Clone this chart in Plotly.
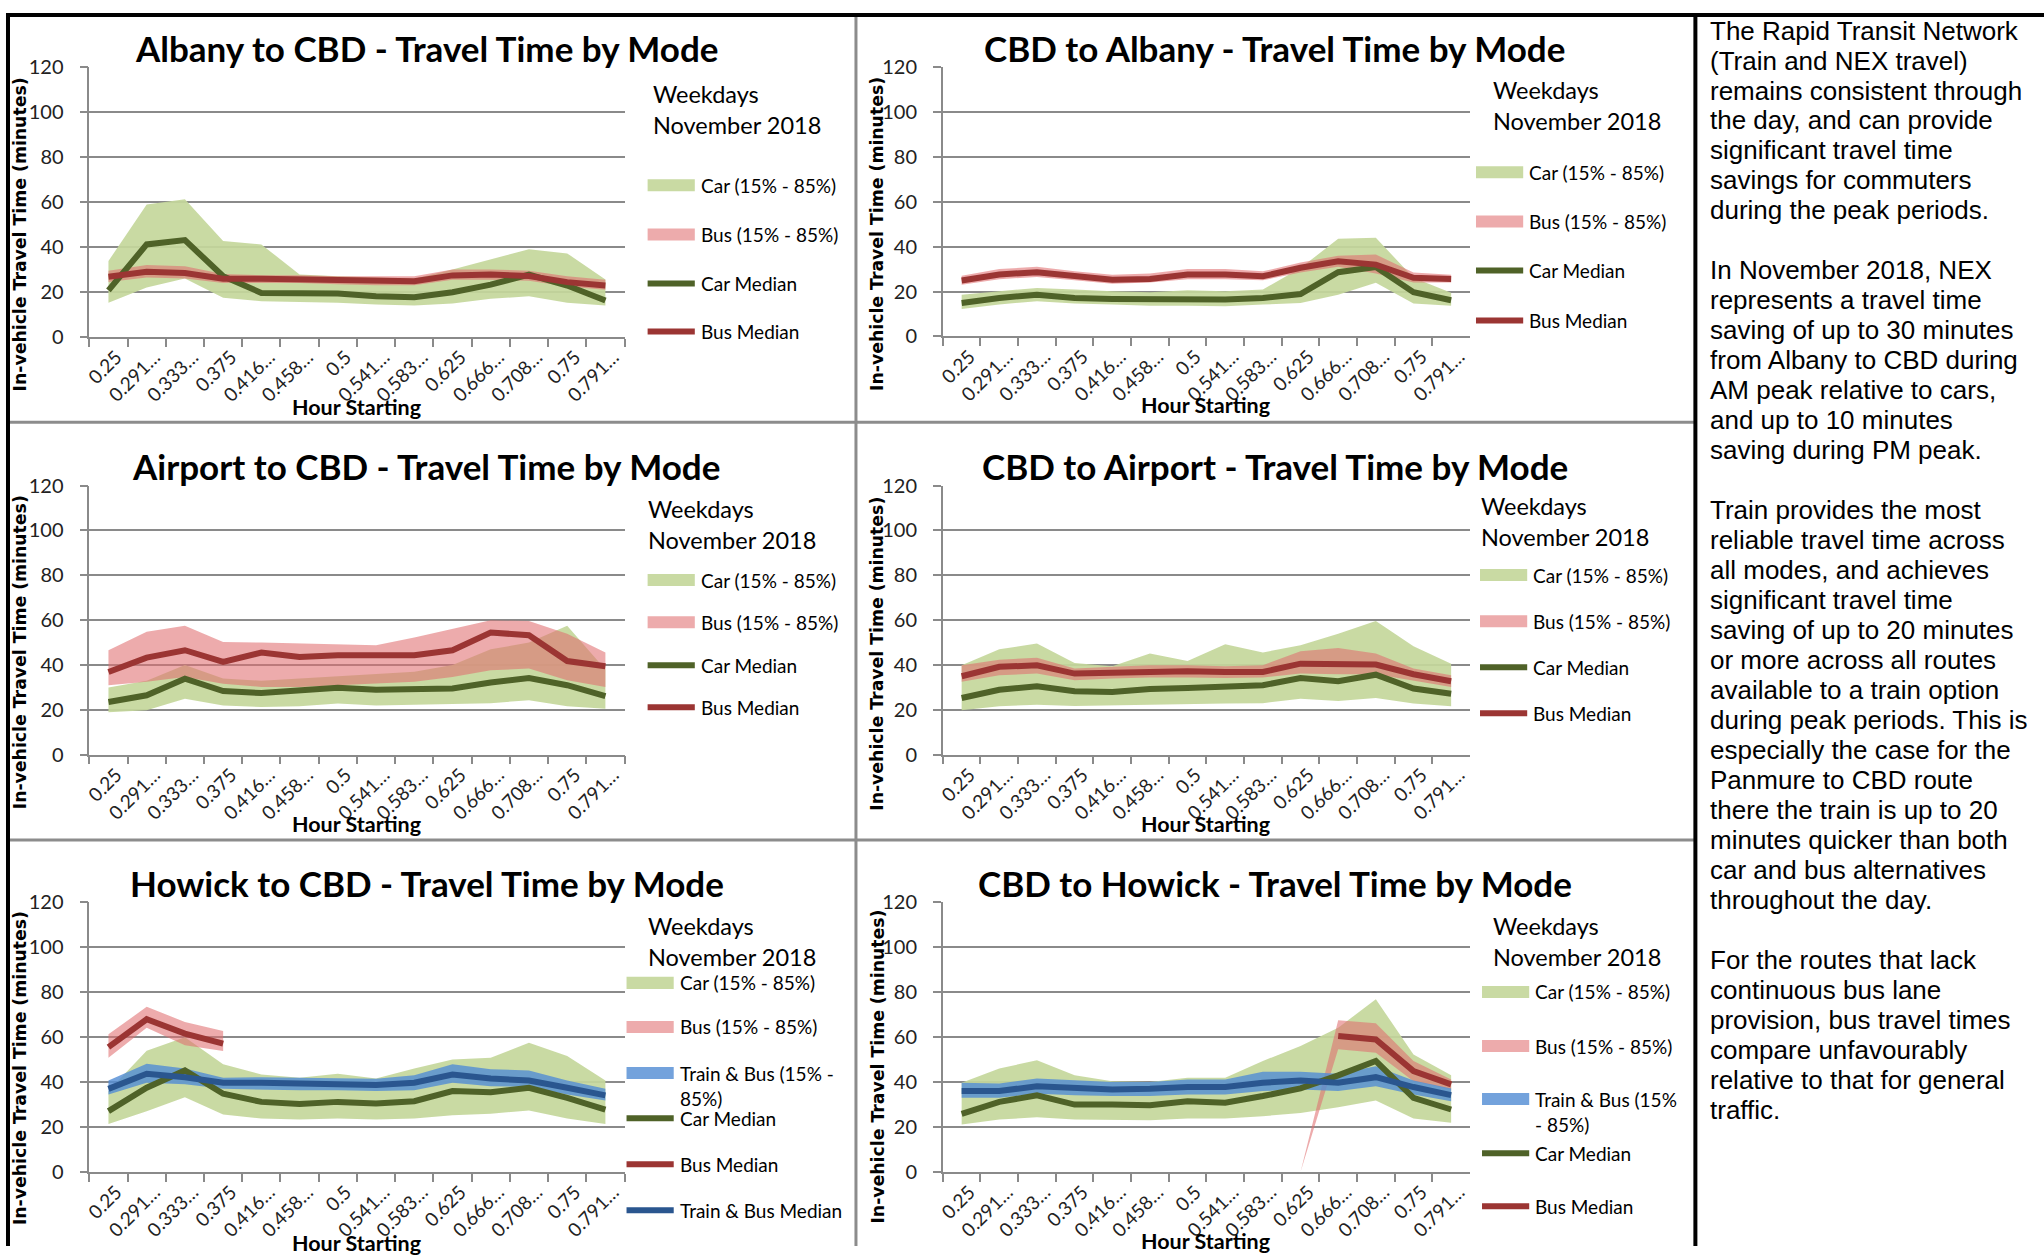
import plotly.graph_objects as go

W, H = 2044, 1257
# measured mapping of this renderer: observed = A * page + B  (per axis); invert it for placement
AX, BX = 0.993, 13.0
AY, BY = 0.979, 14.0

# ---------------- data ----------------
hours = ["0.25", "0.291…", "0.333…", "0.375", "0.416…", "0.458…", "0.5",
         "0.541…", "0.583…", "0.625", "0.666…", "0.708…", "0.75", "0.791…"]

# Albany to CBD
alb_car_med = [20.7, 41.2, 43.1, 27.0, 19.6, 19.2, 19.3, 18.1, 17.7, 19.9, 23.3, 27.7, 22.9, 16.2]
alb_bus_med = [26.8, 29.0, 28.5, 25.9, 25.9, 25.6, 25.1, 24.8, 24.8, 27.4, 27.8, 27.1, 24.4, 22.9]
alb_car_hi = [33.8, 59.0, 61.3, 42.7, 41.2, 27.8, 27.0, 26.3, 25.9, 30.0, 34.5, 39.0, 37.2, 25.6]
alb_car_lo = [15.2, 22.0, 26.0, 17.4, 15.9, 15.5, 15.2, 14.4, 14.0, 14.9, 17.0, 18.1, 15.2, 14.0]
alb_bus_hi = [29.5, 32.0, 31.5, 28.0, 27.5, 27.5, 27.0, 27.0, 27.0, 30.0, 30.0, 29.5, 27.0, 25.5]
alb_bus_lo = [24.5, 26.5, 26.0, 24.0, 24.0, 24.0, 23.5, 23.0, 23.0, 25.5, 25.5, 25.0, 22.5, 21.0]

# CBD to Albany
cba_car_med = [14.9, 17.1, 18.6, 17.1, 16.7, 16.4, 16.7, 16.4, 17.1, 18.9, 28.6, 30.9, 19.7, 16.1]
cba_bus_med = [24.9, 27.6, 28.6, 26.8, 25.3, 25.6, 27.6, 27.6, 26.8, 30.6, 33.5, 32.0, 26.1, 25.6]
cba_car_hi = [18.6, 20.1, 21.6, 20.9, 20.1, 19.7, 20.6, 20.1, 20.9, 30.5, 43.5, 44.0, 26.1, 19.4]
cba_car_lo = [12.2, 14.2, 15.7, 14.6, 14.2, 13.7, 13.7, 13.4, 14.2, 14.9, 18.6, 23.9, 14.6, 13.7]
cba_bus_hi = [27.0, 30.0, 31.0, 29.0, 27.5, 28.0, 30.0, 30.0, 29.0, 33.0, 36.0, 36.5, 28.5, 27.5]
cba_bus_lo = [23.0, 25.5, 26.5, 25.0, 23.5, 24.0, 25.5, 25.5, 25.0, 28.5, 31.0, 28.0, 24.0, 24.0]

# Airport to CBD
apc_car_med = [23.5, 26.5, 33.9, 28.4, 27.5, 29.0, 29.9, 29.0, 29.5, 29.5, 32.2, 34.2, 31.0, 26.1]
apc_bus_med = [36.9, 43.3, 46.6, 41.4, 45.6, 43.6, 44.4, 44.1, 44.4, 46.6, 54.5, 53.3, 41.8, 39.5]
apc_car_hi = [30.0, 33.0, 40.0, 34.0, 33.0, 34.0, 35.0, 36.0, 37.0, 40.0, 47.0, 50.0, 57.5, 38.0]
apc_car_lo = [19.0, 19.8, 25.0, 22.0, 21.3, 21.6, 22.8, 22.0, 22.3, 22.5, 23.0, 24.3, 21.6, 20.5]
apc_bus_hi = [46.6, 54.8, 57.5, 50.3, 50.0, 49.6, 49.1, 48.8, 52.3, 56.0, 60.0, 59.6, 54.0, 45.6]
apc_bus_lo = [31.0, 32.5, 34.7, 31.7, 30.2, 30.2, 31.0, 31.7, 32.5, 34.7, 37.7, 38.4, 33.2, 30.2]

# CBD to Airport
cap_car_med = [25.3, 29.0, 30.5, 28.3, 28.0, 29.3, 29.8, 30.2, 31.0, 34.2, 32.8, 35.7, 29.5, 27.2]
cap_bus_med = [35.0, 39.2, 39.9, 36.2, 36.6, 37.2, 37.2, 36.9, 36.9, 40.6, 40.3, 40.2, 35.9, 32.8]
cap_car_hi = [39.9, 47.0, 49.6, 40.9, 39.5, 45.1, 41.8, 49.3, 45.6, 48.8, 54.0, 59.6, 48.4, 40.6]
cap_car_lo = [19.8, 21.6, 22.3, 21.7, 21.7, 22.0, 22.5, 22.8, 23.0, 25.0, 24.0, 25.3, 22.8, 21.6]
cap_bus_hi = [39.9, 42.4, 43.3, 38.4, 39.2, 39.9, 39.9, 39.5, 39.9, 46.2, 47.6, 45.1, 38.4, 35.4]
cap_bus_lo = [32.5, 35.4, 36.2, 33.2, 34.0, 34.4, 34.4, 34.2, 34.4, 36.2, 35.9, 35.9, 33.2, 30.2]

# Howick to CBD
hwc_car_med = [27.1, 37.5, 45.2, 34.8, 31.2, 30.3, 31.2, 30.5, 31.5, 36.0, 35.5, 37.5, 33.0, 27.8]
hwc_bus_med = [55.6, 68.0, 61.6, 57.1, None, None, None, None, None, None, None, None, None, None]
hwc_tb_med = [37.0, 43.7, 42.2, 39.7, 39.7, 39.3, 39.3, 38.7, 39.7, 43.4, 41.6, 40.7, 37.5, 34.1]
hwc_car_hi = [36.0, 54.0, 60.0, 47.9, 43.4, 41.9, 43.7, 41.6, 46.1, 50.1, 50.9, 57.5, 51.6, 40.7]
hwc_car_lo = [21.4, 27.0, 33.3, 25.6, 23.8, 23.3, 23.8, 23.3, 23.8, 25.3, 25.9, 27.4, 23.8, 21.4]
hwc_bus_hi = [61.3, 73.5, 66.8, 62.8, None, None, None, None, None, None, None, None, None, None]
hwc_bus_lo = [50.9, 64.2, 56.4, 53.8, None, None, None, None, None, None, None, None, None, None]
hwc_tb_hi = [40.7, 48.2, 46.1, 41.9, 42.2, 41.9, 41.9, 41.5, 43.0, 47.9, 45.7, 45.2, 40.7, 37.0]
hwc_tb_lo = [34.5, 39.7, 39.0, 37.0, 36.7, 36.4, 36.4, 36.0, 36.4, 39.7, 38.2, 37.8, 34.5, 31.8]

# CBD to Howick
chw_car_med = [25.9, 31.2, 34.1, 30.0, 30.0, 29.7, 31.5, 30.8, 33.8, 37.2, 43.0, 49.4, 33.0, 27.8]
chw_bus_med = [None, None, None, None, None, None, None, None, None, None, 60.5, 59.0, 44.9, 39.0]
chw_tb_med = [36.0, 36.0, 38.2, 37.2, 36.7, 37.0, 37.8, 37.8, 39.7, 40.7, 39.7, 42.2, 37.8, 34.2]
chw_car_hi = [39.7, 46.1, 49.7, 43.0, 40.4, 40.1, 41.9, 41.9, 49.4, 56.1, 64.2, 76.9, 52.3, 43.1]
chw_car_lo = [21.1, 23.3, 24.4, 23.3, 23.3, 23.0, 23.8, 23.8, 24.8, 26.3, 28.8, 31.8, 23.8, 21.9]
chw_bus_hi = [None, None, None, None, None, None, None, None, None, 0.0, 67.5, 66.2, 49.4, 41.2]
chw_bus_lo = [None, None, None, None, None, None, None, None, None, 0.0, 54.6, 53.1, 40.4, 36.7]
chw_tb_hi = [39.7, 39.4, 41.6, 40.7, 40.1, 40.1, 41.2, 41.2, 44.6, 44.6, 43.7, 47.1, 40.7, 37.2]
chw_tb_lo = [33.0, 33.0, 34.8, 34.1, 33.8, 33.8, 34.5, 34.5, 36.0, 36.7, 36.0, 38.2, 34.5, 31.5]

y_ticks = [0, 20, 40, 60, 80, 100, 120]

titles = ["Albany to CBD - Travel Time by Mode", "CBD to Albany - Travel Time by Mode",
          "Airport to CBD - Travel Time by Mode", "CBD to Airport - Travel Time by Mode",
          "Howick to CBD - Travel Time by Mode", "CBD to Howick - Travel Time by Mode"]

side_text = [
    "The Rapid Transit Network", "(Train and NEX travel)", "remains consistent through",
    "the day, and can provide", "significant travel time", "savings for commuters",
    "during the peak periods.", "",
    "In November 2018, NEX", "represents a travel time", "saving of up to 30 minutes",
    "from Albany to CBD during", "AM peak relative to cars,", "and up to 10 minutes",
    "saving during PM peak.", "",
    "Train provides the most", "reliable travel time across", "all modes, and achieves",
    "significant travel time", "saving of up to 20 minutes", "or more across all routes",
    "available to a train option", "during peak periods. This is", "especially the case for the",
    "Panmure to CBD route", "there the train is up to 20", "minutes quicker than both",
    "car and bus alternatives", "throughout the day.", "",
    "For the routes that lack", "continuous bus lane", "provision, bus travel times",
    "compare unfavourably", "relative to that for general", "traffic.",
]

# ---------------- styles ----------------
CAR_BAND = "rgba(196,215,155,0.92)"
BUS_BAND = "rgba(224,110,112,0.58)"
TB_BAND = "rgba(84,141,212,0.82)"
CAR_LINE = "#4f6228"
BUS_LINE = "#9b3533"
TB_LINE = "#2a568f"
GRID = "#8a8a8a"
CAL = "Lato"


def px_x(t):
    p = (t - BX) / AX
    return min(max(p, 0.0), W) / W


def px_y(t):
    p = (t - BY) / AY
    return 1 - min(max(p, 0.0), H) / H


# panel geometry in target pixels: plot x0, x1, y_top, y_bottom
panels = [
    dict(box=(96, 629, 68.3, 337.3), title=(432, 49), ytitle=(27, 235), xtitle=(362, 407),
         head=(655, 95), lx=652, items=[("band", CAR_BAND, "Car (15% - 85%)", 186),
                                        ("band", BUS_BAND, "Bus (15% - 85%)", 235),
                                        ("line", CAR_LINE, "Car Median", 284),
                                        ("line", BUS_LINE, "Bus Median", 332)],
         car=(alb_car_lo, alb_car_hi, alb_car_med), bus=(alb_bus_lo, alb_bus_hi, alb_bus_med), tb=None),
    dict(box=(946, 1471, 68.3, 336.7), title=(1276, 49), ytitle=(881, 235), xtitle=(1208, 405),
         head=(1492, 91), lx=1477, items=[("band", CAR_BAND, "Car (15% - 85%)", 173),
                                          ("band", BUS_BAND, "Bus (15% - 85%)", 222),
                                          ("line", CAR_LINE, "Car Median", 271),
                                          ("line", BUS_LINE, "Bus Median", 321)],
         car=(cba_car_lo, cba_car_hi, cba_car_med), bus=(cba_bus_lo, cba_bus_hi, cba_bus_med), tb=None),
    dict(box=(96, 629, 485.7, 754.3), title=(431, 466), ytitle=(27, 652), xtitle=(362, 823),
         head=(650, 509), lx=652, items=[("band", CAR_BAND, "Car (15% - 85%)", 580),
                                         ("band", BUS_BAND, "Bus (15% - 85%)", 622),
                                         ("line", CAR_LINE, "Car Median", 665),
                                         ("line", BUS_LINE, "Bus Median", 707)],
         car=(apc_car_lo, apc_car_hi, apc_car_med), bus=(apc_bus_lo, apc_bus_hi, apc_bus_med), tb=None),
    dict(box=(946, 1471, 485.7, 754.3), title=(1277, 466), ytitle=(881, 654), xtitle=(1208, 823),
         head=(1480, 506), lx=1481, items=[("band", CAR_BAND, "Car (15% - 85%)", 575),
                                           ("band", BUS_BAND, "Bus (15% - 85%)", 621),
                                           ("line", CAR_LINE, "Car Median", 667),
                                           ("line", BUS_LINE, "Bus Median", 713)],
         car=(cap_car_lo, cap_car_hi, cap_car_med), bus=(cap_bus_lo, cap_bus_hi, cap_bus_med), tb=None),
    dict(box=(96, 629, 901.7, 1170.7), title=(432, 882), ytitle=(27, 1067), xtitle=(362, 1242),
         head=(650, 925), lx=631, items=[("band", CAR_BAND, "Car (15% - 85%)", 982),
                                         ("band", BUS_BAND, "Bus (15% - 85%)", 1026),
                                         ("band2", TB_BAND, "Train & Bus (15% -<br>85%)", 1072),
                                         ("line", CAR_LINE, "Car Median", 1117),
                                         ("line", BUS_LINE, "Bus Median", 1163),
                                         ("line", TB_LINE, "Train & Bus Median", 1209)],
         car=(hwc_car_lo, hwc_car_hi, hwc_car_med), bus=(hwc_bus_lo, hwc_bus_hi, hwc_bus_med),
         tb=(hwc_tb_lo, hwc_tb_hi, hwc_tb_med)),
    dict(box=(946, 1471, 901.7, 1170.7), title=(1277, 882), ytitle=(881, 1066), xtitle=(1208, 1240),
         head=(1492, 925), lx=1483, items=[("band", CAR_BAND, "Car (15% - 85%)", 991),
                                           ("band", BUS_BAND, "Bus (15% - 85%)", 1045),
                                           ("band2", TB_BAND, "Train & Bus (15%<br>- 85%)", 1098),
                                           ("line", CAR_LINE, "Car Median", 1152),
                                           ("line", BUS_LINE, "Bus Median", 1205)],
         car=(chw_car_lo, chw_car_hi, chw_car_med), bus=(chw_bus_lo, chw_bus_hi, chw_bus_med),
         tb=(chw_tb_lo, chw_tb_hi, chw_tb_med)),
]

fig = go.Figure()
annotations = []
shapes = []


def band_trace(lo, hi, color, xa, ya):
    idx = [i for i in range(len(hours)) if lo[i] is not None and hi[i] is not None]
    xs = [hours[i] for i in idx] + [hours[i] for i in reversed(idx)]
    ys = [hi[i] for i in idx] + [lo[i] for i in reversed(idx)]
    return go.Scatter(x=xs, y=ys, fill="toself", fillcolor=color, mode="lines",
                      line=dict(width=0, color=color), xaxis=xa, yaxis=ya,
                      hoverinfo="skip", showlegend=False)


def line_trace(vals, color, xa, ya):
    idx = [i for i in range(len(hours)) if vals[i] is not None]
    return go.Scatter(x=[hours[i] for i in idx], y=[vals[i] for i in idx], mode="lines",
                      line=dict(color=color, width=6), xaxis=xa, yaxis=ya, showlegend=False)


for k, p in enumerate(panels):
    n = k + 1
    xa = "x" if n == 1 else f"x{n}"
    ya = "y" if n == 1 else f"y{n}"
    x0, x1, yt, yb = p["box"]

    fig.add_trace(band_trace(p["car"][0], p["car"][1], CAR_BAND, xa, ya))
    fig.add_trace(band_trace(p["bus"][0], p["bus"][1], BUS_BAND, xa, ya))
    if p["tb"]:
        fig.add_trace(band_trace(p["tb"][0], p["tb"][1], TB_BAND, xa, ya))
    fig.add_trace(line_trace(p["car"][2], CAR_LINE, xa, ya))
    fig.add_trace(line_trace(p["bus"][2], BUS_LINE, xa, ya))
    if p["tb"]:
        fig.add_trace(line_trace(p["tb"][2], TB_LINE, xa, ya))

    xkey = "xaxis" if n == 1 else f"xaxis{n}"
    ykey = "yaxis" if n == 1 else f"yaxis{n}"
    fig.layout[xkey] = dict(
        domain=[px_x(x0), px_x(x1)], anchor=ya, type="category",
        categoryorder="array", categoryarray=hours, range=[-0.5, len(hours) - 0.5],
        tickson="boundaries", ticks="outside", ticklen=8, tickcolor=GRID, tickwidth=1.5,
        showline=True, linecolor=GRID, linewidth=1.5, showgrid=False, tickangle=-45,
        ticklabelshift=8,
        tickfont=dict(family=CAL, size=19, color="#222222"), fixedrange=True)
    fig.layout[ykey] = dict(
        domain=[px_y(yb), px_y(yt)], anchor=xa, range=[0, 120], tickvals=y_ticks,
        showgrid=True, gridcolor=GRID, gridwidth=1.5, showline=True, linecolor=GRID,
        linewidth=1.5, ticks="outside", ticklen=8, tickcolor=GRID, tickwidth=1.5,
        ticklabelstandoff=12, zeroline=False,
        tickfont=dict(family=CAL, size=20, color="#222222"), fixedrange=True)

    annotations.append(dict(x=px_x(p["title"][0]), y=px_y(p["title"][1]), xref="paper", yref="paper",
                            text=f"<b>{titles[k]}</b>", showarrow=False, xanchor="center", yanchor="middle",
                            font=dict(family=CAL, size=35, color="#000000")))
    annotations.append(dict(x=px_x(p["ytitle"][0]), y=px_y(p["ytitle"][1]), xref="paper", yref="paper",
                            text="<b>In-vehicle Travel Time (minutes)</b>", textangle=-90, showarrow=False,
                            xanchor="center", yanchor="middle",
                            font=dict(family="DejaVu Sans", size=17.3, color="#000000")))
    annotations.append(dict(x=px_x(p["xtitle"][0]), y=px_y(p["xtitle"][1]), xref="paper", yref="paper",
                            text="<b>Hour Starting</b>", showarrow=False, xanchor="center", yanchor="middle",
                            font=dict(family=CAL, size=21.5, color="#000000")))
    hx, hy = p["head"]
    for j, t in enumerate(["Weekdays", "November 2018"]):
        annotations.append(dict(x=px_x(hx), y=px_y(hy + j * 31), xref="paper", yref="paper",
                                text=t, showarrow=False, xanchor="left", yanchor="middle",
                                font=dict(family=CAL, size=23.5, color="#000000")))
    lx = p["lx"]
    for kind, col, label, iy in p["items"]:
        if kind.startswith("band"):
            shapes.append(dict(type="rect", xref="paper", yref="paper",
                               x0=px_x(lx), x1=px_x(lx + 47), y0=px_y(iy - 6), y1=px_y(iy + 6),
                               fillcolor=col, line=dict(width=0), layer="above"))
        else:
            shapes.append(dict(type="line", xref="paper", yref="paper",
                               x0=px_x(lx), x1=px_x(lx + 47), y0=px_y(iy), y1=px_y(iy),
                               line=dict(color=col, width=6), layer="above"))
        ty = iy + (12.5 if kind == "band2" else 0)
        annotations.append(dict(x=px_x(lx + 51), y=px_y(ty), xref="paper", yref="paper",
                                text=label, showarrow=False, xanchor="left", yanchor="middle",
                                align="left", font=dict(family=CAL, size=19, color="#000000")))

# side text panel, one annotation per line at a 30px pitch
for i, line in enumerate(side_text):
    if not line:
        continue
    annotations.append(dict(x=px_x(1708), y=px_y(31.5 + 29.93 * i), xref="paper", yref="paper",
                            text=line, showarrow=False, xanchor="left", yanchor="middle",
                            align="left", font=dict(family="Liberation Sans", size=26, color="#000000")))

# panel separators (grey) and frame (black)
for yy in (422.5, 839.5):
    shapes.append(dict(type="line", xref="paper", yref="paper", x0=px_x(7), x1=px_x(1694),
                       y0=px_y(yy), y1=px_y(yy), line=dict(color="#8c8c8c", width=3)))
shapes.append(dict(type="line", xref="paper", yref="paper", x0=px_x(859.5), x1=px_x(859.5),
                   y0=px_y(6), y1=px_y(W), line=dict(color="#8c8c8c", width=3)))
# outer frame: as close to the top/left edge as the page allows
shapes.append(dict(type="line", xref="paper", yref="paper", x0=0, x1=1,
                   y0=1 - 2.0 / H, y1=1 - 2.0 / H, line=dict(color="#000000", width=4)))
shapes.append(dict(type="line", xref="paper", yref="paper", x0=2.0 / W, x1=2.0 / W,
                   y0=0, y1=1, line=dict(color="#000000", width=4)))
shapes.append(dict(type="line", xref="paper", yref="paper", x0=px_x(1695.5), x1=px_x(1695.5),
                   y0=0, y1=1, line=dict(color="#000000", width=4)))

fig.update_layout(width=W, height=H, margin=dict(l=0, r=0, t=0, b=0, pad=0),
                  paper_bgcolor="white", plot_bgcolor="white", showlegend=False,
                  annotations=annotations, shapes=shapes)

fig.write_html("out.html", config={"displayModeBar": False},
               post_script="document.body.style.margin='0';document.body.style.overflow='hidden';")
